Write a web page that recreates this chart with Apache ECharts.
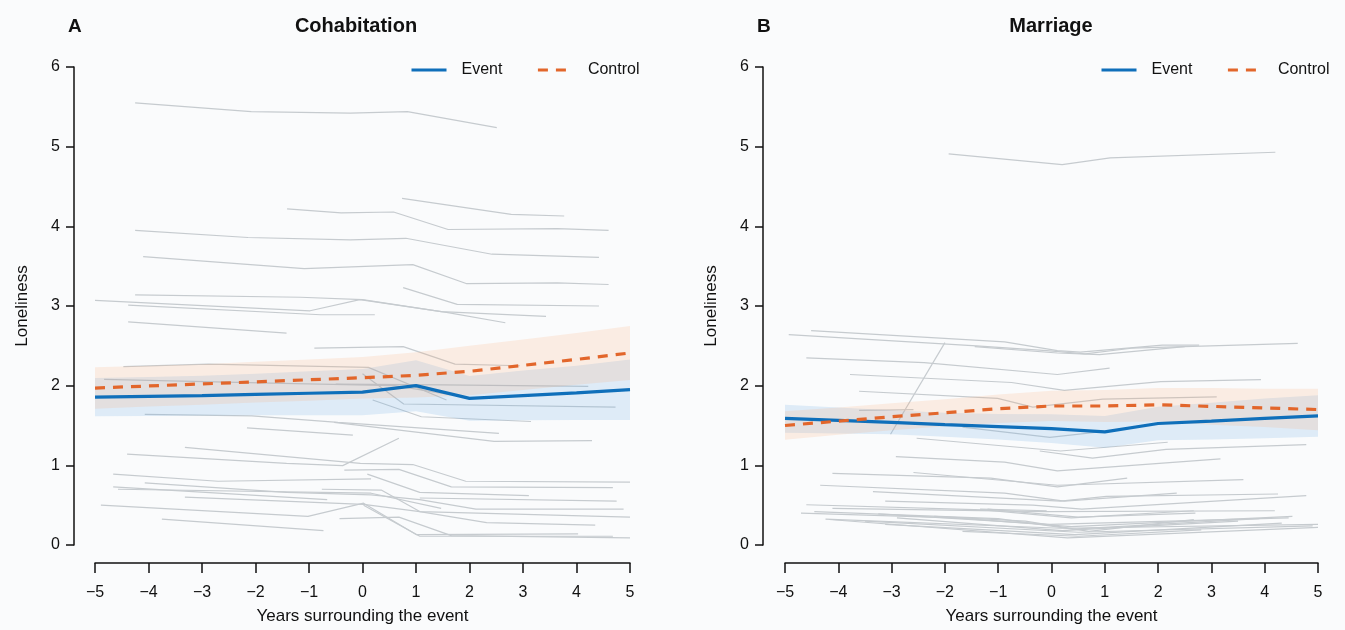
<!DOCTYPE html>
<html><head><meta charset="utf-8">
<script src="https://cdn.jsdelivr.net/npm/echarts@6/dist/echarts.min.js"></script>
<style>html,body{margin:0;padding:0;background:#fafbfc}#chart{width:1345px;height:630px}</style>
</head><body><div id="chart"></div>
<script>
// ---------- data ----------
const years = [-5,-4,-3,-2,-1,0,1,2,3,4,5];
const yTicks = [0,1,2,3,4,5,6];

const cohabEvent     = [1.855,1.865,1.875,1.89,1.905,1.92,2.00,1.84,1.875,1.91,1.95];
const cohabEventLo   = [1.615,1.62,1.625,1.63,1.63,1.63,1.68,1.56,1.565,1.57,1.57];
const cohabEventHi   = [2.095,2.11,2.125,2.15,2.18,2.21,2.32,2.12,2.19,2.25,2.33];
const cohabControl   = [1.97,1.996,2.022,2.048,2.074,2.10,2.13,2.18,2.255,2.33,2.41];
const cohabControlLo = [1.71,1.74,1.76,1.79,1.81,1.84,1.85,1.88,1.945,2.01,2.07];
const cohabControlHi = [2.23,2.25,2.27,2.30,2.33,2.36,2.42,2.50,2.58,2.66,2.75];

const marEvent     = [1.59,1.565,1.54,1.51,1.485,1.46,1.42,1.525,1.555,1.59,1.62];
const marEventLo   = [1.41,1.40,1.39,1.36,1.325,1.28,1.22,1.315,1.325,1.34,1.36];
const marEventHi   = [1.76,1.725,1.69,1.66,1.645,1.64,1.62,1.735,1.785,1.84,1.88];
const marControl   = [1.50,1.555,1.61,1.66,1.71,1.745,1.745,1.76,1.74,1.72,1.70];
const marControlLo = [1.32,1.385,1.44,1.49,1.53,1.555,1.545,1.55,1.51,1.48,1.44];
const marControlHi = [1.68,1.725,1.78,1.83,1.89,1.935,1.945,1.97,1.97,1.96,1.96];

// individual trajectories [year, loneliness]
const cohabPeople = [
 [[-4.25,5.55],[-2.08,5.44],[-0.23,5.42],[0.84,5.44],[2.51,5.24]],
 [[0.74,4.35],[2.78,4.15],[3.77,4.13]],
 [[-1.41,4.22],[-0.40,4.17],[0.58,4.18],[1.60,3.96],[3.64,3.97],[4.60,3.95]],
 [[-4.25,3.95],[-2.14,3.86],[-0.23,3.83],[0.81,3.85],[2.42,3.65],[4.42,3.61]],
 [[-4.10,3.62],[-1.09,3.47],[0.94,3.52],[1.95,3.28],[3.64,3.29],[4.60,3.27]],
 [[0.76,3.23],[1.77,3.02],[4.42,3.00]],
 [[-5.0,3.07],[-0.98,2.94],[-0.05,3.08],[1.57,2.92],[2.67,2.79]],
 [[-4.25,3.14],[-1.16,3.11],[0.0,3.08],[1.47,2.93],[3.43,2.87]],
 [[-4.38,3.01],[-0.78,2.89],[0.23,2.89]],
 [[-4.38,2.80],[-1.42,2.66]],
 [[-0.90,2.47],[0.76,2.49],[1.73,2.27],[2.94,2.25]],
 [[-4.47,2.24],[-2.89,2.27],[0.11,2.23],[1.57,1.82]],
 [[-4.83,2.08],[-1.5,2.03],[0.6,2.0],[1.61,1.89]],
 [[-0.5,2.02],[1.5,2.01],[4.22,1.99]],
 [[0.0,2.15],[0.77,1.77],[4.73,1.73]],
 [[0.19,1.82],[1.1,1.61],[3.15,1.55]],
 [[-4.07,1.64],[-2.07,1.62],[-0.46,1.54],[2.55,1.40]],
 [[-2.16,1.47],[-0.18,1.38]],
 [[-0.53,1.54],[2.46,1.30],[4.29,1.31]],
 [[-4.4,1.14],[-1.42,1.025],[-0.37,0.996],[0.68,1.34]],
 [[-3.32,1.225],[-0.04,1.025],[0.94,1.01],[1.93,0.80],[5.0,0.79]],
 [[-0.34,0.94],[0.68,0.95],[1.66,0.73],[4.68,0.72]],
 [[-4.66,0.89],[-2.70,0.80],[0.16,0.83]],
 [[0.09,0.89],[1.07,0.66],[3.11,0.62]],
 [[-4.07,0.78],[-1.42,0.66],[0.16,0.63],[1.07,0.57],[2.12,0.45],[4.88,0.45]],
 [[-4.66,0.73],[-0.66,0.57]],
 [[-4.57,0.70],[0.16,0.65],[1.47,0.46]],
 [[-0.76,0.70],[0.35,0.69],[1.07,0.42],[2.32,0.28],[4.35,0.25]],
 [[1.07,0.59],[4.75,0.55]],
 [[-3.32,0.60],[0.02,0.51],[1.07,0.42],[5.0,0.35]],
 [[-4.89,0.50],[-1.02,0.36],[0.02,0.525],[1.01,0.13],[4.03,0.14]],
 [[-0.43,0.33],[0.68,0.35],[1.66,0.117],[5.0,0.09]],
 [[-3.75,0.325],[-0.73,0.18]],
 [[0.02,0.50],[1.07,0.11],[4.68,0.11]]
];

const marPeople = [
 [[-1.93,4.91],[0.2,4.775],[1.1,4.86],[4.2,4.93]],
 [[-4.51,2.69],[-0.88,2.55],[0.11,2.44],[0.54,2.42],[2.08,2.51],[2.77,2.51]],
 [[-4.93,2.64],[-1.41,2.50],[-0.09,2.44],[0.63,2.40],[1.5,2.47],[4.62,2.53]],
 [[-1.44,2.49],[0.11,2.41],[0.9,2.39],[2.5,2.49]],
 [[-3.02,1.39],[-2.0,2.54]],
 [[-4.6,2.35],[-2.39,2.29],[0.11,2.14],[1.09,2.22]],
 [[-3.78,2.14],[-0.75,2.04],[0.24,1.94],[2.05,2.05],[3.93,2.075]],
 [[-3.61,1.93],[-1.01,1.84],[-0.35,1.73],[0.96,1.83],[3.10,1.86]],
 [[-3.61,1.69],[-2.59,1.70]],
 [[-1.67,1.48],[-0.03,1.35],[0.9,1.42]],
 [[-2.53,1.34],[0.17,1.18],[2.18,1.29]],
 [[-0.22,1.18],[0.77,1.09],[2.15,1.20],[4.78,1.26]],
 [[-2.92,1.11],[-0.88,1.04],[0.11,0.93],[3.17,1.08]],
 [[-4.11,0.90],[-1.14,0.84],[0.11,0.73],[1.42,0.84]],
 [[-2.59,0.91],[0.11,0.75],[3.6,0.82]],
 [[-4.34,0.75],[-0.88,0.65],[0.24,0.55],[2.35,0.65]],
 [[-3.35,0.67],[0.17,0.55],[1.03,0.61],[4.25,0.64]],
 [[-3.12,0.55],[-0.35,0.50],[0.57,0.45],[4.78,0.62]],
 [[-4.6,0.505],[-1.28,0.44],[0.37,0.34],[2.67,0.43]],
 [[-4.11,0.46],[-0.09,0.42],[4.19,0.43]],
 [[-4.7,0.40],[-1.8,0.34],[0.37,0.23],[4.52,0.36]],
 [[-3.25,0.39],[-0.03,0.26],[4.45,0.34]],
 [[-4.24,0.325],[0.17,0.21],[5.0,0.26]],
 [[-4.17,0.32],[0.3,0.09],[5.0,0.22]],
 [[-3.12,0.26],[0.44,0.13],[4.32,0.275]],
 [[-1.67,0.17],[0.50,0.11],[2.81,0.19]],
 [[-2.2,0.36],[-0.49,0.30],[0.70,0.17],[2.67,0.32]],
 [[-2.9,0.34],[0.2,0.18],[3.5,0.30]],
 [[-1.2,0.45],[0.5,0.35],[2.7,0.40]],
 [[-1.34,0.45],[-0.09,0.43]],
 [[-4.45,0.42],[-1.0,0.33],[0.4,0.20],[3.9,0.33]],
 [[-3.5,0.30],[0.5,0.16],[4.9,0.24]]
];

// ---------- styling / build ----------
const FONT = '"Liberation Sans", Arial, Helvetica, sans-serif';
const INK = '#111';
const BLUE = '#0f6fba';
const ORANGE = '#e2662b';
const GRAY = '#c6cbcf';
const BLUE_BAND = 'rgba(100,170,230,0.19)';
const ORANGE_BAND = 'rgba(255,160,100,0.16)';

function xAxisFor(gi){
  return {type:'value', gridIndex:gi, min:-5, max:5, interval:1, offset:18,
    axisLine:{show:true, onZero:false, lineStyle:{color:INK, width:1.5}},
    axisTick:{show:true, length:10, lineStyle:{color:INK, width:1.5}},
    axisLabel:{margin:22, fontSize:16, color:INK, fontFamily:FONT,
      formatter:v => String(v).replace('-', '\u2212')},
    splitLine:{show:false},
    name:'Years surrounding the event', nameLocation:'middle', nameGap:45,
    nameTextStyle:{fontSize:17, color:INK, fontFamily:FONT}};
}
function yAxisFor(gi, off){
  return {type:'value', gridIndex:gi, min:yTicks[0], max:yTicks[yTicks.length-1], interval:1, offset:off,
    axisLine:{show:true, onZero:false, lineStyle:{color:INK, width:1.5}},
    axisTick:{show:true, length:8, lineStyle:{color:INK, width:1.5}},
    axisLabel:{margin:14, fontSize:16, color:INK, fontFamily:FONT},
    splitLine:{show:false},
    name:'Loneliness', nameLocation:'middle', nameGap:43,
    nameTextStyle:{fontSize:17, color:INK, fontFamily:FONT}};
}

const series = [];
function addPeople(people, gi){
  people.forEach(p => series.push({type:'line', xAxisIndex:gi, yAxisIndex:gi, data:p,
    symbol:'none', silent:true, z:1, lineStyle:{color:GRAY, width:1.2}}));
}
function addBand(lo, hi, color, gi){
  series.push({type:'custom', xAxisIndex:gi, yAxisIndex:gi, silent:true, z:2,
    data: years.map((x,i)=>[x, lo[i], hi[i]]),
    encode:{x:0, y:[1,2]},
    renderItem:(params, api) => {
      if (params.dataIndex !== 0) return null;
      const pts = [];
      for (let i=0;i<years.length;i++) pts.push(api.coord([years[i], hi[i]]));
      for (let i=years.length-1;i>=0;i--) pts.push(api.coord([years[i], lo[i]]));
      return {type:'polygon', shape:{points:pts}, style:{fill:color}};
    }});
}
function addMean(name, vals, color, dashed, gi){
  series.push({type:'line', name:name, xAxisIndex:gi, yAxisIndex:gi, symbol:'none', z:5,
    data: years.map((x,i)=>[x, vals[i]]),
    lineStyle:{color:color, width:3.2, type: dashed ? [10,8] : 'solid'},
    itemStyle:{color:color}});
}

addPeople(cohabPeople, 0);
addBand(cohabEventLo, cohabEventHi, BLUE_BAND, 0);
addBand(cohabControlLo, cohabControlHi, ORANGE_BAND, 0);
addMean('Event', cohabEvent, BLUE, false, 0);
addMean('Control', cohabControl, ORANGE, true, 0);

addPeople(marPeople, 1);
addBand(marEventLo, marEventHi, BLUE_BAND, 1);
addBand(marControlLo, marControlHi, ORANGE_BAND, 1);
addMean('Event', marEvent, BLUE, false, 1);
addMean('Control', marControl, ORANGE, true, 1);

const legendCommon = {data:['Event','Control'], top:62, itemWidth:35, itemHeight:14, itemGap:34, padding:0,
  selectedMode:false,
  itemStyle:{color:'rgba(0,0,0,0)', borderColor:'rgba(0,0,0,0)', borderWidth:0, opacity:0},
  lineStyle:{width:3},
  textStyle:{fontSize:16, color:INK, fontFamily:FONT, padding:[0,0,0,10]}};
const titleStyle = {fontSize:20, fontWeight:'bold', color:INK, fontFamily:FONT};

const option = {
  backgroundColor:'#fafbfc',
  animation:false,
  title:[
    {text:'A', left:68, top:17, padding:0, textStyle:Object.assign({}, titleStyle, {fontSize:19})},
    {text:'Cohabitation', left:356, top:16, padding:0, textAlign:'center', textStyle:titleStyle},
    {text:'B', left:757, top:17, padding:0, textStyle:Object.assign({}, titleStyle, {fontSize:19})},
    {text:'Marriage', left:1051, top:16, padding:0, textAlign:'center', textStyle:titleStyle}
  ],
  legend:[
    Object.assign({left:410}, legendCommon),
    Object.assign({left:1100}, legendCommon)
  ],
  grid:[
    {left:95, top:67, width:535, height:480},
    {left:785, top:67, width:533, height:480}
  ],
  xAxis:[xAxisFor(0), xAxisFor(1)],
  yAxis:[yAxisFor(0, 21), yAxisFor(1, 22)],
  series:series
};

const chart = echarts.init(document.getElementById('chart'), null, {renderer:'canvas'});
chart.setOption(option);
</script></body></html>
